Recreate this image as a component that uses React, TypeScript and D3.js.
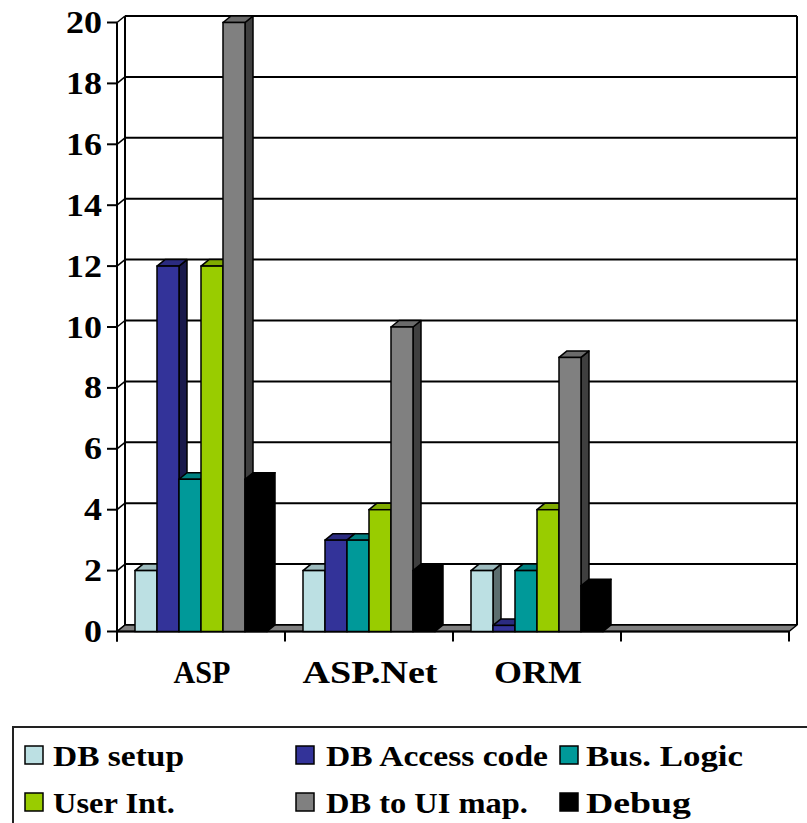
import React from "react";
import * as d3 from "d3";

const categories = ["ASP", "ASP.Net", "ORM", ""];
const seriesNames = ["DB setup", "DB Access code", "Bus. Logic", "User Int.", "DB to UI map.", "Debug"];
const seriesColors = ["#BCE0E3", "#333399", "#009999", "#99CC00", "#808080", "#000000"];
const dbSetup = [2, 2, 2, null];
const dbAccess = [12, 3, 0.2, null];
const busLogic = [5, 3, 2, null];
const userInt = [12, 4, 4, null];
const dbToUi = [20, 10, 9, null];
const debug = [5, 2, 1.5, null];
const seriesValues = [dbSetup, dbAccess, busLogic, userInt, dbToUi, debug];
const yTicks = [0, 2, 4, 6, 8, 10, 12, 14, 16, 18, 20];
const categoryLabelWidths = [57, 135, 88, 0];
const legendLabelWidths = [131, 222, 157, 122, 202, 105];

const W = 807;
const H = 823;
const AX = 117; // front axis x
const AR = 789; // front right end of floor
const DX = 8;
const DY = -6.5;
const FONT = "Liberation Serif";

export default function App() {
  const y = d3.scaleLinear().domain([0, 20]).range([631.5, 22.5]);
  const x = d3.scaleBand<string>().domain(categories.map((c, i) => String(i))).range([AX, AR]).padding(0);
  const cw = x.bandwidth();
  const inner = d3.scaleBand<string>().domain(seriesNames).range([18, cw - 18]).padding(0);
  const y0 = y(0);

  const bars: React.ReactNode[] = [];
  categories.forEach((cat, ci) => {
    seriesNames.forEach((s, si) => {
      const v = seriesValues[si][ci];
      if (v == null) return;
      const x0 = (x(String(ci)) as number) + (inner(s) as number);
      const x1 = x0 + inner.bandwidth();
      const yt = y(v);
      const base = seriesColors[si];
      const top = d3.rgb(base).darker(0.5).formatHex();
      const side = d3.rgb(base).darker(2).formatHex();
      const sw = 1.5;
      bars.push(
        <g key={`${ci}-${si}`}>
          <polygon
            points={`${x1},${yt} ${x1 + DX},${yt + DY} ${x1 + DX},${y0 + DY} ${x1},${y0}`}
            fill={side}
            stroke="#000"
            strokeWidth={sw}
            strokeLinejoin="round"
          />
          <polygon
            points={`${x0},${yt} ${x1},${yt} ${x1 + DX},${yt + DY} ${x0 + DX},${yt + DY}`}
            fill={top}
            stroke="#000"
            strokeWidth={sw}
            strokeLinejoin="round"
          />
          <rect x={x0} y={yt} width={x1 - x0} height={y0 - yt} fill={base} stroke="#000" strokeWidth={sw} />
        </g>
      );
    });
  });

  const boundaries = categories.map((c, i) => x(String(i)) as number).concat([AR]);

  const legendCols = [
    { sx: 25, tx: 53 },
    { sx: 296, tx: 326 },
    { sx: 560, tx: 586 },
  ];
  const legendRows = [{ sy: 746, ty: 766 }, { sy: 793, ty: 813 }];

  return (
    <svg
      width={W}
      height={H}
      viewBox={`0 0 ${W} ${H}`}
      style={{ position: "absolute", left: 0, top: 0, background: "#fff" }}
    >
      <rect x={0} y={0} width={W} height={H} fill="#fff" />
      {/* back wall */}
      <rect x={AX + DX} y={y(20) + DY} width={AR - AX} height={y0 - y(20)} fill="#fff" />
      {/* gridlines on back wall and side wall */}
      {yTicks.map((t) => (
        <g key={`g${t}`}>
          <line x1={AX + DX} x2={AR + DX} y1={y(t) + DY} y2={y(t) + DY} stroke="#000" strokeWidth={2} />
          <line x1={AX} x2={AX + DX} y1={y(t)} y2={y(t) + DY} stroke="#000" strokeWidth={1.5} />
          <line x1={AX - 10} x2={AX} y1={y(t)} y2={y(t)} stroke="#000" strokeWidth={2} />
        </g>
      ))}
      {/* wall edges */}
      <line x1={AX + DX} x2={AX + DX} y1={y(20) + DY} y2={y0 + DY} stroke="#000" strokeWidth={2} />
      <line x1={AR + DX} x2={AR + DX} y1={y(20) + DY} y2={y0 + DY} stroke="#000" strokeWidth={2} />
      <line x1={AX} x2={AX} y1={y(20)} y2={y0 + 10} stroke="#000" strokeWidth={2} />
      {/* floor */}
      <polygon
        points={`${AX},${y0} ${AR},${y0} ${AR + DX},${y0 + DY} ${AX + DX},${y0 + DY}`}
        fill="#808080"
        stroke="#000"
        strokeWidth={1.5}
        strokeLinejoin="round"
      />
      <line x1={AX} x2={AR} y1={y0} y2={y0} stroke="#000" strokeWidth={2} />
      {/* x-axis ticks */}
      {boundaries.map((bx, i) => (
        <line key={`xt${i}`} x1={bx} x2={bx} y1={y0} y2={y0 + 10} stroke="#000" strokeWidth={2} />
      ))}
      {bars}
      {/* y tick labels */}
      {yTicks.map((t) => (
        <text
          key={`yl${t}`}
          x={102}
          y={y(t) + 10.5}
          textAnchor="end"
          fontFamily={FONT}
          fontWeight="bold"
          fontSize={31}
          textLength={String(t).length * 18}
          lengthAdjust="spacingAndGlyphs"
          fill="#000"
        >
          {String(t)}
        </text>
      ))}
      {/* category labels */}
      {categories.map((c, i) =>
        c ? (
          <text
            key={`cl${i}`}
            x={(x(String(i)) as number) + cw / 2 + 1}
            y={683}
            textAnchor="middle"
            fontFamily={FONT}
            fontWeight="bold"
            fontSize={31}
            textLength={categoryLabelWidths[i]}
            lengthAdjust="spacingAndGlyphs"
            fill="#000"
          >
            {c}
          </text>
        ) : null
      )}
      {/* legend */}
      <rect x={13} y={727} width={820} height={120} fill="#fff" stroke="#222" strokeWidth={2} />
      {seriesNames.map((s, i) => {
        const col = legendCols[i % 3];
        const row = legendRows[Math.floor(i / 3)];
        return (
          <g key={`lg${i}`}>
            <rect x={col.sx} y={row.sy} width={18} height={18} fill={seriesColors[i]} stroke="#000" strokeWidth={1.5} />
            <text
              x={col.tx}
              y={row.ty}
              fontFamily={FONT}
              fontWeight="bold"
              fontSize={29}
              textLength={legendLabelWidths[i]}
              lengthAdjust="spacingAndGlyphs"
              fill="#000"
            >
              {s}
            </text>
          </g>
        );
      })}
    </svg>
  );
}
